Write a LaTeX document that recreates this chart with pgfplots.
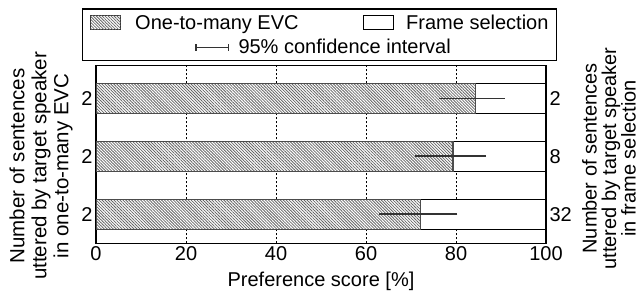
\documentclass[border=0pt]{standalone}
\usepackage{pgfplots}
\pgfplotsset{compat=1.18}
\usepackage{fontspec}
\setmainfont{Liberation Sans}
\usetikzlibrary{patterns.meta}

\tikzset{hatchfill/.style={fill=white, postaction={pattern={Lines[angle=-45,distance=2.1pt,line width=0.8pt]}, pattern color=black!60}}}
\newcommand{\bigfont}{\fontsize{20}{22}\selectfont}

\begin{document}
\begin{tikzpicture}[x=1pt,y=1pt,font=\bigfont]
\useasboundingbox (0,0) rectangle (639,291);
\begin{axis}[
  at={(96pt,47.7pt)}, anchor=south west,
  width=450pt, height=177.6pt, scale only axis,
  xmin=0, xmax=100, ymin=-0.502, ymax=2.562,
  xtick={0,20,40,60,80,100},
  ytick={0,1,2}, yticklabels={2,2,2},
  major tick length=0,
  xmajorgrids,
  grid style={black, line width=0.8pt, dash pattern=on 2pt off 2pt},
  axis line style={line width=1.2pt},
  tick label style={font=\bigfont},
  /pgf/number format/assume math mode=true,
]
\addplot[xbar, bar width=0.517, bar shift=0pt, fill=white, draw=black, line width=1.3pt]
  coordinates {(100,0) (100,1) (100,2)};
\addplot[xbar, bar width=0.517, bar shift=0pt, draw=black!70, line width=1.3pt, hatchfill]
  coordinates {(72.1,0) (79.3,1) (84.4,2)};
\addplot[draw=none, mark=none, forget plot,
  error bars/.cd, x dir=both, x explicit,
  error bar style={line width=1.5pt, black!80},
  error mark options={mark size=4pt, line width=1.5pt, black!80}]
  coordinates {(72.1,0) += (7.3,0) -= (8.3,0)
               (79.3,1) += (6.5,0) -= (7.5,0)
               (84.4,2) += (5.5,0) -= (7.2,0)};
\end{axis}
\begin{axis}[
  at={(96pt,47.7pt)}, anchor=south west,
  width=450pt, height=177.6pt, scale only axis,
  xmin=0, xmax=100, ymin=-0.502, ymax=2.562,
  axis x line=none, axis y line*=right,
  ytick={0,1,2}, yticklabels={32,8,2},
  major tick length=0,
  axis line style={line width=1.2pt},
  tick label style={font=\bigfont},
]
\addplot[draw=none] coordinates {(0,0)};
\end{axis}
% legend
\draw[line width=1.2pt] (82.3,230.3) rectangle (556.3,282);
\draw[line width=1pt, draw=black!80, hatchfill] (90.7,261.7) rectangle (120.7,275.3);
\node[anchor=base west, inner sep=0pt] at (135,261.8) {One-to-many EVC};
\draw[line width=1pt, fill=white] (363,261.7) rectangle (393,275.3);
\node[anchor=base west, inner sep=0pt] at (406,261.8) {Frame selection};
\draw[line width=1.3pt, black!80] (196,243.7) -- (228.3,243.7)
  (196,240.2) -- (196,247.2) (228.3,240.2) -- (228.3,247.2);
\node[anchor=base west, inner sep=0pt] at (238.3,237) {95\% confidence interval};
% axis titles
\node[anchor=base, inner sep=0pt] at (321,4.8) {Preference score [\%]};
\node[rotate=90, align=center, inner sep=0pt, font=\fontsize{20.5}{22}\selectfont] at (41,125)
  {Number of sentences\\uttered by target speaker\\in one-to-many EVC};
\node[rotate=90, align=center, inner sep=0pt, font=\fontsize{20}{19.5}\selectfont] at (609,132.5)
  {Number of sentences\\uttered by target speaker\\in frame selection};
\end{tikzpicture}
\end{document}
